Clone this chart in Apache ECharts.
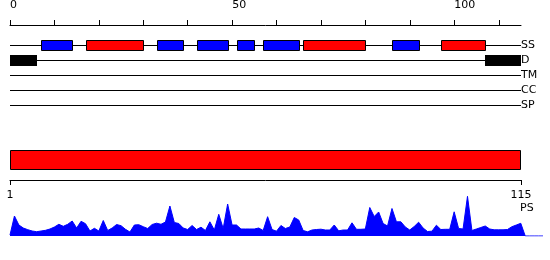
<!DOCTYPE html>
<html><head><meta charset="utf-8">
<script src="https://cdn.jsdelivr.net/npm/echarts@6/dist/echarts.min.js"></script>
<style>html,body{margin:0;padding:0;background:#fff}#c{width:550px;height:260px}</style>
</head><body><div id="c"></div>
<script>
// ---- data ----
const seqLength = 115;
const trackNames = ['SS', 'D', 'TM', 'CC', 'SP'];
const topTickValues = [0, 10, 20, 30, 40, 50, 60, 70, 80, 90, 100, 110];
const topLabelValues = [0, 50, 100];
const bottomLabelValues = [1, 115];
const strandRanges = [[7, 14], [33, 39], [42, 49], [51, 55], [57, 65], [86, 92]];
const helixRanges = [[17, 30], [66, 80], [97, 107]];
const disorderRanges = [[0, 6], [107, 115]];
const domainRanges = [[1, 115]];
const psLabel = 'PS';
const psValues = [
  1, 20, 11, 8, 6.3, 5, 4.3, 5, 5.7, 7,
  9, 11.7, 9.7, 11.7, 15, 8, 14.7, 12.3, 5, 7.7,
  5, 15.5, 5.5, 8, 11.5, 10.3, 6.7, 4, 11, 11.3,
  9.3, 7.5, 11.5, 12.8, 11.7, 14, 30, 13.5, 12.5, 8,
  6.5, 10.5, 6.5, 8.8, 5.5, 14.2, 6, 21.7, 7.5, 32,
  11, 11, 7, 7, 7, 7, 8, 5.5, 19.3, 6.5,
  4.8, 10.5, 7.5, 9, 18.5, 16, 5.5, 4.2, 6, 6.5,
  6.8, 6, 6, 11, 5.2, 6, 6, 13.2, 6.7, 6.7,
  7, 28.5, 19.5, 24, 12.5, 10, 27.5, 14.2, 14.2, 9,
  6, 9.5, 13.8, 8, 4.5, 4.8, 10.8, 6.5, 6.7, 6.7,
  24.2, 7.5, 7, 39.7, 5.5, 7, 8.5, 10, 7, 6.2,
  6.2, 6.2, 6.5, 9.3, 11, 12.7, 0, 0, 0, 0, 0
];

const FONT = 'DejaVu Sans';
const chart = echarts.init(document.getElementById('c'), null, {renderer: 'canvas'});

function px(v) { return Math.round(v) + 0.5; }

function lineRenderer(params, api) {
  const p0 = api.coord([api.value(0), api.value(2)]);
  const p1 = api.coord([api.value(1), api.value(2)]);
  const y = px(p0[1]);
  return {type: 'line', shape: {x1: Math.round(p0[0]), y1: y, x2: Math.round(p1[0]), y2: y},
    style: {stroke: '#000', lineWidth: 1}};
}
function boxRenderer(color, h, stroke) {
  return function (params, api) {
    const p0 = api.coord([api.value(0), api.value(2)]);
    const p1 = api.coord([api.value(1), api.value(2)]);
    const x0 = stroke ? px(p0[0]) : Math.round(p0[0]);
    const x1 = stroke ? px(p1[0]) : Math.round(p1[0]);
    const y0 = stroke ? px(p0[1] - h / 2) : Math.round(p0[1] - h / 2);
    return {type: 'rect', shape: {x: x0, y: y0, width: x1 - x0, height: h},
      style: {fill: color, stroke: stroke ? '#000' : null, lineWidth: 1}};
  };
}
function domainRenderer(params, api) {
  const p0 = api.coord([api.value(0), api.value(2)]);
  const p1 = api.coord([api.value(1), api.value(2)]);
  const band = api.size([0, 1])[1];
  const x0 = px(p0[0]), x1 = px(p1[0]) - 1;
  const y0 = px(p0[1] - band / 2);
  return {type: 'rect', shape: {x: x0, y: y0, width: x1 - x0, height: band - 1},
    style: {fill: '#ff0000', stroke: '#000', lineWidth: 1}};
}

const option = {
  animation: false,
  backgroundColor: '#fff',
  textStyle: {fontFamily: FONT},
  title: {text: psLabel, left: 520, top: 203, padding: 0,
    textStyle: {fontFamily: FONT, fontSize: 11, fontWeight: 'normal', color: '#000'}},
  grid: [
    {left: 10, width: 511, top: 15, height: 10},
    {left: 10, width: 511, top: 37.5, height: 75},
    {left: 10, width: 511, top: 150, height: 20},
    {left: 10, width: 533, top: 191, height: 45}
  ],
  xAxis: [
    {gridIndex: 0, type: 'value', position: 'top', min: 0, max: seqLength,
      axisLine: {show: true, lineStyle: {color: '#000', width: 1}},
      axisTick: {show: true, length: 5, lineStyle: {color: '#000'}, customValues: topTickValues},
      axisLabel: {show: true, customValues: topLabelValues, align: 'left', margin: 4,
        color: '#000', fontSize: 11, fontFamily: FONT},
      splitLine: {show: false}},
    {gridIndex: 1, type: 'value', min: 0, max: seqLength, show: false},
    {gridIndex: 2, type: 'value', position: 'bottom', offset: 10, min: 1, max: seqLength,
      axisLine: {show: true, lineStyle: {color: '#000', width: 1}},
      axisTick: {show: true, length: 5, lineStyle: {color: '#000'}, customValues: bottomLabelValues},
      axisLabel: {show: true, customValues: bottomLabelValues, margin: 10,
        color: '#000', fontSize: 11, fontFamily: FONT},
      splitLine: {show: false}},
    {gridIndex: 3, type: 'value', min: 0, max: psValues.length - 1, show: false}
  ],
  yAxis: [
    {gridIndex: 0, type: 'value', show: false},
    {gridIndex: 1, type: 'category', data: trackNames, inverse: true, position: 'right',
      axisLine: {show: false}, axisTick: {show: false}, splitLine: {show: false},
      axisLabel: {show: true, margin: 0, color: '#000', fontSize: 11, fontFamily: FONT}},
    {gridIndex: 2, type: 'category', data: ['domain'], show: false},
    {gridIndex: 3, type: 'value', min: 0, max: 45, show: false}
  ],
  series: [
    {type: 'custom', xAxisIndex: 1, yAxisIndex: 1, renderItem: lineRenderer,
      encode: {x: [0, 1], y: 2}, data: trackNames.map((n, i) => [0, seqLength, i])},
    {type: 'custom', xAxisIndex: 1, yAxisIndex: 1, renderItem: boxRenderer('#0000ff', 10, true),
      encode: {x: [0, 1], y: 2}, data: strandRanges.map(r => [r[0], r[1], 0])},
    {type: 'custom', xAxisIndex: 1, yAxisIndex: 1, renderItem: boxRenderer('#ff0000', 10, true),
      encode: {x: [0, 1], y: 2}, data: helixRanges.map(r => [r[0], r[1], 0])},
    {type: 'custom', xAxisIndex: 1, yAxisIndex: 1, renderItem: boxRenderer('#000000', 11, false),
      encode: {x: [0, 1], y: 2}, data: disorderRanges.map(r => [r[0], r[1], 1])},
    {type: 'custom', xAxisIndex: 2, yAxisIndex: 2, renderItem: domainRenderer,
      encode: {x: [0, 1], y: 2}, data: domainRanges.map(r => [r[0], r[1], 0])},
    {type: 'line', xAxisIndex: 3, yAxisIndex: 3, symbol: 'none', smooth: false,
      lineStyle: {color: '#0000ff', width: 1}, itemStyle: {color: '#0000ff'},
      areaStyle: {color: '#0000ff', opacity: 1},
      data: psValues.map((v, k) => [k, v])}
  ]
};
chart.setOption(option);
</script>
</body></html>
